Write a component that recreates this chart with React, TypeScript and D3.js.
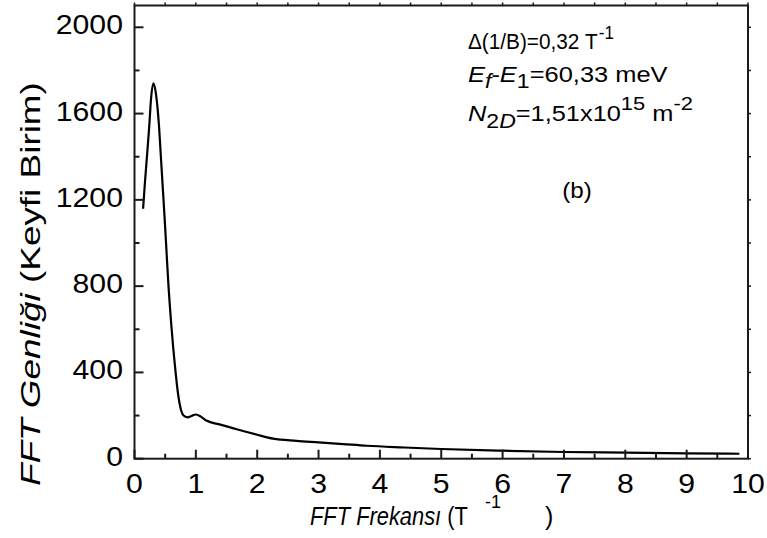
import React, { useLayoutEffect, useRef, useState } from "react";
import * as d3 from "d3";

const freq = [0.14, 0.17, 0.2, 0.24, 0.27, 0.31, 0.35, 0.4, 0.43, 0.46, 0.49, 0.52, 0.55, 0.6, 0.67, 0.71, 0.75, 0.8, 0.86, 0.93, 1.0, 1.08, 1.17, 1.4, 1.6, 1.8, 2.0, 2.26, 2.64, 3.0, 3.4, 3.79, 4.4, 5.0, 6.0, 7.0, 8.0, 9.0, 9.86];
const amp = [1159, 1280, 1390, 1540, 1670, 1740, 1690, 1540, 1400, 1260, 1120, 970, 820, 620, 400, 300, 235, 200, 192, 198, 205, 195, 177, 158, 142, 126, 111, 93, 83, 76, 68, 60, 52, 45, 37, 31, 28, 25, 23];

const xTicks = [0, 1, 2, 3, 4, 5, 6, 7, 8, 9, 10];
const xMinor = [0.5, 1.5, 2.5, 3.5, 4.5, 5.5, 6.5, 7.5, 8.5, 9.5];
const yTicks = [0, 400, 800, 1200, 1600, 2000];
const yMinor = [200, 600, 1000, 1400, 1800];

const W = 767, H = 538;
const L = 134.5, R = 748, T = 5.5, B = 458.7;
const FONT = "'Liberation Sans', Arial, sans-serif";

function Fit({ x, y, width, rotate = 0, children }: { x: number; y: number; width: number; rotate?: number; children: React.ReactNode }) {
  const ref = useRef<SVGGElement>(null);
  const [s, setS] = useState(1);
  useLayoutEffect(() => {
    if (ref.current) {
      const w = ref.current.getBBox().width;
      if (w > 0) setS(width / w);
    }
  }, [width]);
  return (
    <g transform={`translate(${x},${y}) rotate(${rotate}) scale(${s},1)`}>
      <g ref={ref}>{children}</g>
    </g>
  );
}

export default function App() {
  const x = d3.scaleLinear().domain([0, 10]).range([L, R]);
  const y = d3.scaleLinear().domain([0, 2000]).range([B, 27.3]);
  const pts = freq.map((f, i) => [f, amp[i]] as [number, number]);
  const line = d3.line<[number, number]>().x(d => x(d[0])).y(d => y(d[1])).curve(d3.curveMonotoneX);
  const axisColor = "#1a1a1a";
  return (
    <svg width={W} height={H} style={{ position: "absolute", left: 0, top: 0, background: "#fff" }} fontFamily={FONT}>
      <rect x={0} y={0} width={W} height={H} fill="#fff" />
      <path d={line(pts) || ""} fill="none" stroke="#000" strokeWidth={2.2} strokeLinejoin="round" />
      <rect x={L} y={T} width={R - L} height={B - T} fill="none" stroke={axisColor} strokeWidth={2} />
      {xTicks.map(t => (
        <line key={"xt" + t} x1={x(t)} x2={x(t)} y1={B} y2={B - 9} stroke={axisColor} strokeWidth={2} />
      ))}
      {xMinor.map(t => (
        <line key={"xm" + t} x1={x(t)} x2={x(t)} y1={B} y2={B - 5} stroke={axisColor} strokeWidth={2} />
      ))}
      {xTicks.concat(xMinor).map(t => (
        <line key={"xtt" + t} x1={x(t)} x2={x(t)} y1={T} y2={T - 3} stroke={axisColor} strokeWidth={1.5} />
      ))}
      {yTicks.map(t => (
        <line key={"yt" + t} x1={L} x2={L + 9} y1={y(t)} y2={y(t)} stroke={axisColor} strokeWidth={2} />
      ))}
      {yMinor.map(t => (
        <line key={"ym" + t} x1={L} x2={L + 5} y1={y(t)} y2={y(t)} stroke={axisColor} strokeWidth={2} />
      ))}
      {yTicks.concat(yMinor).map(t => (
        <line key={"yr" + t} x1={R} x2={R + 3} y1={y(t)} y2={y(t)} stroke={axisColor} strokeWidth={1.5} />
      ))}
      {xTicks.map(t => (
        <text key={"xl" + t} transform={`translate(${x(t)},493) scale(1.12,1)`} textAnchor="middle" fontSize={27} fill="#000">{t}</text>
      ))}
      {yTicks.map(t => (
        <text key={"yl" + t} transform={`translate(123,${y(t) + 7}) scale(1.12,1)`} textAnchor="end" fontSize={27} fill="#000">{t}</text>
      ))}
      {/* x title */}
      <Fit x={310} y={525} width={158}>
        <text x={0} y={0} fontSize={26} fill="#000">
          <tspan fontStyle="italic">FFT Frekansı</tspan>
          <tspan> (T</tspan>
        </text>
      </Fit>
      <text x={485} y={508} fontSize={18} fill="#000">-1</text>
      <text x={545} y={525} fontSize={25} fill="#000">)</text>
      {/* y title */}
      <Fit x={40} y={486} width={404} rotate={-90}>
        <text x={0} y={0} fontSize={27} fill="#000">
          <tspan fontStyle="italic">FFT Genliği</tspan>
          <tspan> (Keyfi Birim)</tspan>
        </text>
      </Fit>
      {/* annotations */}
      <Fit x={468} y={49} width={146}>
        <text x={0} y={0} fontSize={22} fill="#000">
          <tspan>Δ(1/B)=0,32 T</tspan>
          <tspan dx={1} dy={-10} fontSize={18}>-1</tspan>
        </text>
      </Fit>
      <Fit x={468} y={82} width={200}>
        <text x={0} y={0} fontSize={22} fill="#000">
          <tspan fontStyle="italic">E</tspan>
          <tspan fontStyle="italic" dy={6} fontSize={20}>f</tspan>
          <tspan dy={-6}>-</tspan>
          <tspan fontStyle="italic">E</tspan>
          <tspan dy={6} fontSize={20}>1</tspan>
          <tspan dy={-6}>=60,33 meV</tspan>
        </text>
      </Fit>
      <Fit x={468} y={121} width={225}>
        <text x={0} y={0} fontSize={22} fill="#000">
          <tspan fontStyle="italic">N</tspan>
          <tspan dy={7} fontSize={20}>2</tspan>
          <tspan fontStyle="italic" fontSize={20}>D</tspan>
          <tspan dy={-7}>=1,51x10</tspan>
          <tspan dy={-11} fontSize={19}>15</tspan>
          <tspan dy={11}> m</tspan>
          <tspan dy={-11} fontSize={19}>-2</tspan>
        </text>
      </Fit>
      <text transform="translate(577,198) scale(1.1,1)" textAnchor="middle" fontSize={22} fill="#000">(b)</text>
    </svg>
  );
}
